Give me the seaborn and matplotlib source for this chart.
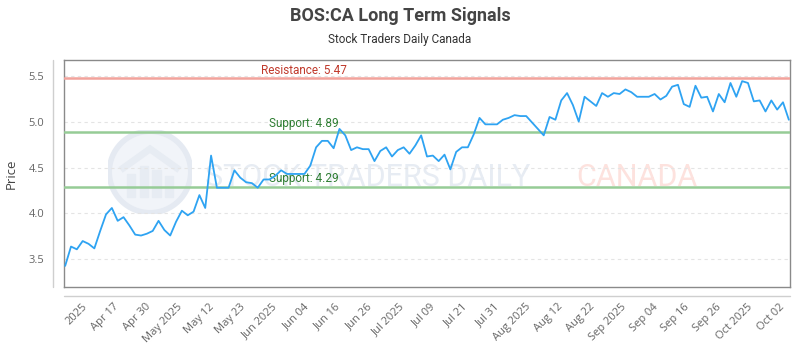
import numpy as np
import pandas as pd
import matplotlib
matplotlib.use("Agg")
import matplotlib.pyplot as plt
import seaborn as sns
from matplotlib.lines import Line2D
from matplotlib.patches import Circle, Rectangle, Polygon

# Daily closes (trading days)
prices = [
    3.43, 3.64, 3.61, 3.70, 3.67, 3.62, 3.81, 3.99, 4.06, 3.92,
    3.96, 3.87, 3.77, 3.76, 3.78, 3.81, 3.92, 3.82, 3.76, 3.91,
    4.03, 3.98, 4.02, 4.20, 4.06, 4.63, 4.28, 4.28, 4.28, 4.47,
    4.39, 4.34, 4.33, 4.28, 4.37, 4.37, 4.41, 4.47, 4.43, 4.43,
    4.43, 4.43, 4.52, 4.72, 4.79, 4.79, 4.71, 4.92, 4.85, 4.69,
    4.72, 4.70, 4.70, 4.57, 4.68, 4.72, 4.62, 4.69, 4.72, 4.65,
    4.74, 4.85, 4.62, 4.63, 4.57, 4.64, 4.48, 4.67, 4.72, 4.72,
    4.86, 5.04, 4.97, 4.97, 4.97, 5.02, 5.04, 5.07, 5.06, 5.06,
    4.99, 4.92, 4.85, 5.05, 5.02, 5.23, 5.31, 5.18, 5.00, 5.27,
    5.22, 5.17, 5.31, 5.27, 5.31, 5.30, 5.35, 5.32, 5.27, 5.27,
    5.27, 5.30, 5.24, 5.28, 5.38, 5.40, 5.19, 5.16, 5.39, 5.26,
    5.27, 5.11, 5.30, 5.21, 5.42, 5.27, 5.44, 5.42, 5.22, 5.23,
    5.11, 5.23, 5.13, 5.21, 5.02,
]

tick_labels = [
    "2025", "Apr 17", "Apr 30", "May 2025", "May 12", "May 23", "Jun 2025",
    "Jun 04", "Jun 16", "Jun 26", "Jul 2025", "Jul 09", "Jul 21", "Jul 31",
    "Aug 2025", "Aug 12", "Aug 22", "Sep 2025", "Sep 04", "Sep 16", "Sep 26",
    "Oct 2025", "Oct 02",
]

resistance = 5.47
supports = [4.89, 4.29]

df = pd.DataFrame({"day": np.arange(len(prices)), "price": prices})

sns.set_theme(style="white")
plt.rcParams["font.family"] = ["Open Sans", "DejaVu Sans"]
narrow = ["Roboto", "DejaVu Sans"]

W, H = 800, 350
fig = plt.figure(figsize=(8, 3.5), dpi=100)
ax = fig.add_axes([64 / W, 1 - 287 / H, 726 / W, 227 / H])

# watermark
fig.text(205 / W, 1 - 178 / H, "STOCK TRADERS DAILY", family=narrow, fontsize=22,
         color="#e7ecf3", ha="left", va="center", zorder=0)
fig.text(697 / W, 1 - 178 / H, "CANADA", family=narrow, fontsize=22,
         color="#fde2de", ha="right", va="center", zorder=0)
logo = fig.add_axes([108 / W, 1 - 214 / H, 84 / W, 84 / H], zorder=0)
logo.set_xlim(-1, 1)
logo.set_ylim(-1, 1)
logo.set_aspect("equal")
logo.axis("off")
logo.add_patch(Circle((0, 0), 0.97, facecolor="#f1f4f9", edgecolor="#e5eaf2", lw=4))
for bx, bh in [(-0.45, 0.55), (-0.15, 0.75), (0.15, 0.65), (0.45, 0.5)]:
    logo.add_patch(Rectangle((bx - 0.1, -0.6), 0.2, bh, color="#e7ecf3"))
logo.add_patch(Polygon([(-0.7, 0.05), (0.0, 0.55), (0.7, 0.05)], closed=False,
                       fill=False, edgecolor="#e7ecf3", lw=5))
ax.set_zorder(1)
ax.patch.set_alpha(0)

sns.lineplot(data=df, x="day", y="price", ax=ax, color="#2ea3f2", lw=1.3, zorder=5)

ax.axhline(resistance, color="#f2a39c", lw=1.8, zorder=3)
ax.text(0.33, resistance + 0.02, f"Resistance: {resistance:.2f}", transform=ax.get_yaxis_transform(),
        ha="center", va="bottom", color="#c0392b", fontsize=8.5, family=narrow)
for s in supports:
    ax.axhline(s, color="#96cc96", lw=1.8, zorder=3)
    ax.text(0.33, s + 0.02, f"Support: {s:.2f}", transform=ax.get_yaxis_transform(),
            ha="center", va="bottom", color="#2e7d32", fontsize=8.5, family=narrow)

ax.set_xlim(-0.2, len(prices) - 0.8)
ax.set_ylim(3.2, 5.67)
ax.set_yticks([3.5, 4.0, 4.5, 5.0, 5.5])
ax.set_yticklabels([f"{v:.1f}" for v in [3.5, 4.0, 4.5, 5.0, 5.5]])
ax.yaxis.grid(True, linestyle=(0, (3, 3)), color="#e4e4e4", lw=0.8)
ax.xaxis.grid(False)

ax.set_xticks(np.linspace(3.5, 123.0, len(tick_labels)))
ax.set_xticklabels(tick_labels, rotation=45, ha="right", va="center", rotation_mode="anchor")
ax.tick_params(axis="x", length=0, pad=13, labelsize=8, labelcolor="#666666")
ax.tick_params(axis="y", length=0, pad=14, labelsize=8, labelcolor="#666666")
ax.set_xlabel("")
ax.set_ylabel("Price", fontsize=9.5, color="#444444", labelpad=8)

for sp in ax.spines.values():
    sp.set_color("#8a8a8a")
    sp.set_linewidth(1.0)

# outer axis lines
fig.add_artist(Line2D([64 / W, 790 / W], [1 - 296 / H, 1 - 296 / H], color="#cfcfcf", lw=1))
fig.add_artist(Line2D([53 / W, 53 / W], [1 - 60 / H, 1 - 287 / H], color="#cfcfcf", lw=1))

fig.text(0.5, 1 - 16 / H, "BOS:CA Long Term Signals", ha="center", va="center",
         fontsize=13, fontweight="bold", color="#444444", family=narrow)
fig.text(0.5, 1 - 40 / H, "Stock Traders Daily Canada", ha="center", va="center",
         fontsize=8.5, color="#333333", family=narrow)

fig.savefig("out.png", dpi=100)
